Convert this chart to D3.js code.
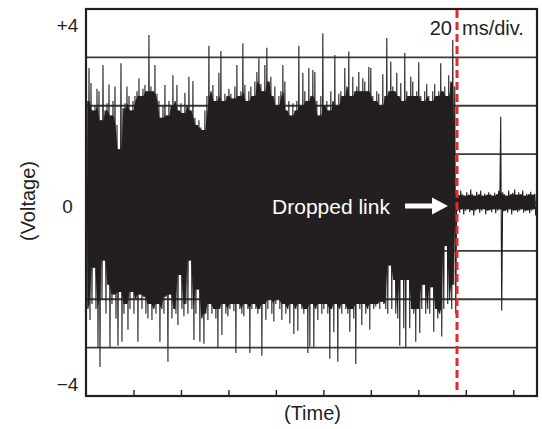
<!DOCTYPE html>
<html>
<head>
<meta charset="utf-8">
<script src="https://cdn.jsdelivr.net/npm/d3@7"></script>
<style>
body { margin: 0; background: #fff; }
text { font-family: 'Liberation Sans', Arial, sans-serif; fill: #231f20; }
</style>
</head>
<body>
<div id="chart"></div>
<script>
// scope trace, peaks (one up/down pair every sample)
var sampleMs = 0.842
var firstMs = 0.42
var dropMs = 156.3
var spanMs = [0, 190]
var voltSpan = [-4, 4]
var timeTicks = [20, 40, 60, 80, 100, 120, 140, 160, 180]
var gridVolts = [-3, -2, -1, 0, 1, 2, 3]
var voltTicks = [4, 0, -4]
var voltLabels = ['+4', '0', '\u22124']

// link up: big noisy signal
var linkHi = [
	2.1, 2.78, 2.47, 1.9, 2.0, 2.35, 2.3, 1.7, 2.84, 1.9,
	2.05, 2.44, 1.8, 2.1, 2.4, 1.6, 1.1, 2.88, 1.95, 2.05,
	2.4, 2.2, 1.9, 2.1, 2.2, 2.3, 2.57, 2.2, 2.35, 2.43,
	2.3, 3.46, 2.4, 2.3, 2.84, 2.25, 2.1, 1.75, 2.0, 2.43,
	1.8, 2.1, 2.0, 2.63, 2.1, 2.43, 1.9, 2.05, 1.85, 2.27,
	2.0, 2.6, 1.9, 2.51, 1.75, 1.6, 1.7, 1.55, 1.5, 1.9,
	2.2, 3.24, 2.3, 2.43, 2.1, 2.2, 2.68, 3.13, 2.1, 2.25,
	2.2, 2.35, 2.25, 2.15, 2.4, 2.84, 2.2, 2.3, 3.29, 2.43,
	2.1, 2.3, 2.4, 2.2, 2.5, 2.7, 2.98, 2.45, 2.3, 2.84,
	3.2, 2.5, 2.6, 2.2, 2.4, 2.0, 2.2, 2.3, 2.84, 2.5,
	1.9, 2.1, 1.8, 2.05, 1.9, 2.1, 3.24, 2.0, 2.68, 2.3,
	2.1, 2.78, 2.2, 2.74, 2.7, 2.1, 1.8, 2.2, 3.5, 2.0,
	2.1, 1.9, 2.3, 2.1, 3.05, 2.0, 2.25, 2.3, 2.2, 2.78,
	2.4, 3.12, 2.2, 2.6, 2.3, 2.4, 2.7, 2.3, 2.57, 2.5,
	2.3, 2.8, 2.78, 2.2, 2.1, 2.3, 2.25, 2.0, 2.65, 2.2,
	3.4, 2.3, 2.91, 2.4, 2.3, 2.68, 2.2, 2.47, 2.1, 3.09,
	2.3, 2.2, 2.6, 2.5, 2.2, 2.3, 2.9, 2.2, 2.1, 2.3,
	2.45, 2.2, 2.1, 2.3, 2.45, 2.2, 2.3, 2.88, 2.3, 2.4,
	2.2, 2.63, 2.5, 3.36, 2.4
]
var linkLo = [
	-2.2, -2.43, -2.1, -1.35, -2.2, -3.0, -3.4, -2.0, -1.2, -2.3,
	-1.7, -3.0, -2.1, -1.9, -2.4, -2.96, -1.85, -2.88, -2.3, -2.1,
	-2.63, -2.2, -1.85, -2.3, -2.0, -2.88, -1.9, -2.2, -1.95, -2.3,
	-2.4, -2.1, -2.43, -2.2, -2.3, -2.1, -2.88, -2.2, -2.3, -1.95,
	-3.29, -1.9, -2.4, -2.2, -2.3, -2.53, -1.5, -2.2, -2.35, -2.1,
	-2.3, -1.2, -2.2, -2.84, -2.3, -1.8, -2.88, -2.4, -2.92, -2.3,
	-2.43, -2.1, -2.3, -2.2, -2.4, -3.0, -2.2, -2.74, -2.1, -2.3,
	-2.35, -2.2, -2.1, -2.25, -3.11, -2.1, -2.2, -2.3, -2.35, -2.1,
	-2.2, -3.11, -2.2, -2.1, -2.2, -2.3, -2.2, -3.17, -2.1, -2.43,
	-2.2, -2.0, -2.3, -2.46, -2.1, -2.0, -2.2, -2.43, -2.1, -2.3,
	-2.2, -2.5, -2.1, -2.72, -2.2, -2.65, -2.1, -2.2, -2.3, -2.2,
	-3.11, -2.98, -2.1, -3.0, -2.2, -2.43, -2.1, -2.3, -2.2, -2.1,
	-2.3, -3.23, -2.2, -2.68, -2.1, -3.29, -2.2, -2.3, -2.1, -2.2,
	-2.3, -2.67, -2.2, -2.4, -3.34, -2.1, -2.2, -2.53, -2.1, -2.3,
	-2.2, -2.63, -2.1, -2.2, -2.15, -2.1, -2.2, -2.05, -2.1, -2.2,
	-2.3, -1.3, -2.2, -1.6, -2.3, -2.4, -2.96, -1.6, -2.6, -3.0,
	-1.6, -2.6, -2.2, -2.3, -2.88, -2.2, -2.7, -2.2, -1.7, -2.3,
	-2.2, -2.3, -1.75, -2.67, -2.2, -2.4, -2.3, -2.77, -2.2, -0.9,
	-2.1, -2.0, -2.2, -1.7, -2.3
]
// link dropped: flat trace with one glitch
var dropHi = [
	0.2, 0.15, 0.25, 0.17, 0.14, 0.21, 0.16, 0.27, 0.17, 0.14,
	0.22, 0.17, 0.25, 0.14, 0.18, 0.16, 0.21, 0.17, 0.14, 0.2,
	0.17, 0.24, 1.77, 0.21, 0.17, 0.14, 0.25, 0.17, 0.2, 0.27,
	0.16, 0.21, 0.17, 0.25, 0.14, 0.18, 0.17, 0.22, 0.16, 0.18
]
var dropLo = [
	-0.17, -0.21, -0.14, -0.25, -0.17, -0.14, -0.2, -0.16, -0.27, -0.17,
	-0.14, -0.21, -0.17, -0.14, -0.24, -0.17, -0.16, -0.2, -0.14, -0.22,
	-0.17, -0.14, -2.24, -0.18, -0.17, -0.21, -0.14, -0.25, -0.17, -0.16,
	-0.2, -0.17, -0.14, -0.21, -0.18, -0.16, -0.22, -0.17, -0.14, -0.27
]

var W = 542, H = 429
var m = {l: 86, r: 537, t: 9, b: 396}
var x = d3.scaleLinear().domain(spanMs).range([m.l, m.r])
var y = d3.scaleLinear().domain(voltSpan).range([m.b, m.t])
var ink = '#231f20'

var svg = d3.select('#chart').append('svg')
	.attr('width', W)
	.attr('height', H)

// gridlines
svg.append('g').selectAll('line').data(gridVolts).join('line')
	.attr('x1', m.l).attr('x2', m.r)
	.attr('y1', d => y(d)).attr('y2', d => y(d))
	.style('stroke', '#3a3a3a').style('stroke-width', 1.8)

// the trace
var hi = linkHi.concat(dropHi)
var lo = linkLo.concat(dropLo)
var n = hi.length
var trace = []
var core = []
hi.forEach((h, i) => {
	var t = firstMs + i*sampleMs
	trace.push([t, h])
	trace.push([t + sampleMs/2, lo[i]])
	var a = Math.max(0, i-1), b = Math.min(n, i+2)
	core.push([t + sampleMs/4, d3.min(hi.slice(a, b)), d3.max(lo.slice(a, b))])
})
// dense part of the trace, where the sweeps overlap
svg.append('path').datum(core)
	.attr('d', d3.area().x(d => x(d[0])).y1(d => y(d[1])).y0(d => y(d[2])))
	.style('fill', ink)
svg.append('path').datum(trace)
	.attr('d', d3.line().x(d => x(d[0])).y(d => y(d[1])))
	.style('fill', 'none')
	.style('stroke', ink)
	.style('stroke-width', 1.1)

// frame and time ticks
var ax = svg.append('g').attr('transform', 'translate(0,' + m.b + ')')
	.call(d3.axisBottom(x).tickValues(timeTicks).tickSize(-6).tickFormat(''))
ax.select('.domain').remove()
ax.selectAll('line').style('stroke', ink).style('stroke-width', 1.4)
svg.append('rect')
	.attr('x', m.l).attr('y', m.t)
	.attr('width', m.r - m.l).attr('height', m.b - m.t)
	.style('fill', 'none').style('stroke', ink).style('stroke-width', 2.2)

// voltage labels
var labelShift = [23, 10, -5]
svg.append('g').selectAll('text').data(voltTicks).join('text')
	.attr('x', 67.5)
	.attr('y', (d, i) => y(d) + labelShift[i])
	.attr('text-anchor', 'middle')
	.style('font-size', '19px')
	.text((d, i) => voltLabels[i])

// drop marker
svg.append('line')
	.attr('x1', x(dropMs)).attr('x2', x(dropMs))
	.attr('y1', m.t + 1).attr('y2', 392)
	.style('stroke', '#e8282b').style('stroke-width', 3)
	.style('stroke-dasharray', '8,4')

svg.append('text').attr('x', x(dropMs) - 5).attr('y', 35)
	.attr('text-anchor', 'end').style('font-size', '20px').text('20')
svg.append('text').attr('x', x(dropMs) + 5).attr('y', 35)
	.style('font-size', '20px').text('ms/div.')

svg.append('text').attr('x', 331).attr('y', 214)
	.attr('text-anchor', 'middle')
	.style('font-size', '21px').style('fill', '#fff').text('Dropped link')
svg.append('path')
	.attr('d', 'M405,203.5 L432,203.5 L432,197.5 L448,206 L432,214.5 L432,208.5 L405,208.5 Z')
	.style('fill', '#fff')

// axis titles
svg.append('text').attr('x', 312.5).attr('y', 420)
	.attr('text-anchor', 'middle').style('font-size', '20px').text('(Time)')
svg.append('text')
	.attr('transform', 'translate(35,201) rotate(-90)')
	.attr('text-anchor', 'middle').style('font-size', '20px').text('(Voltage)')
</script>
</body>
</html>
